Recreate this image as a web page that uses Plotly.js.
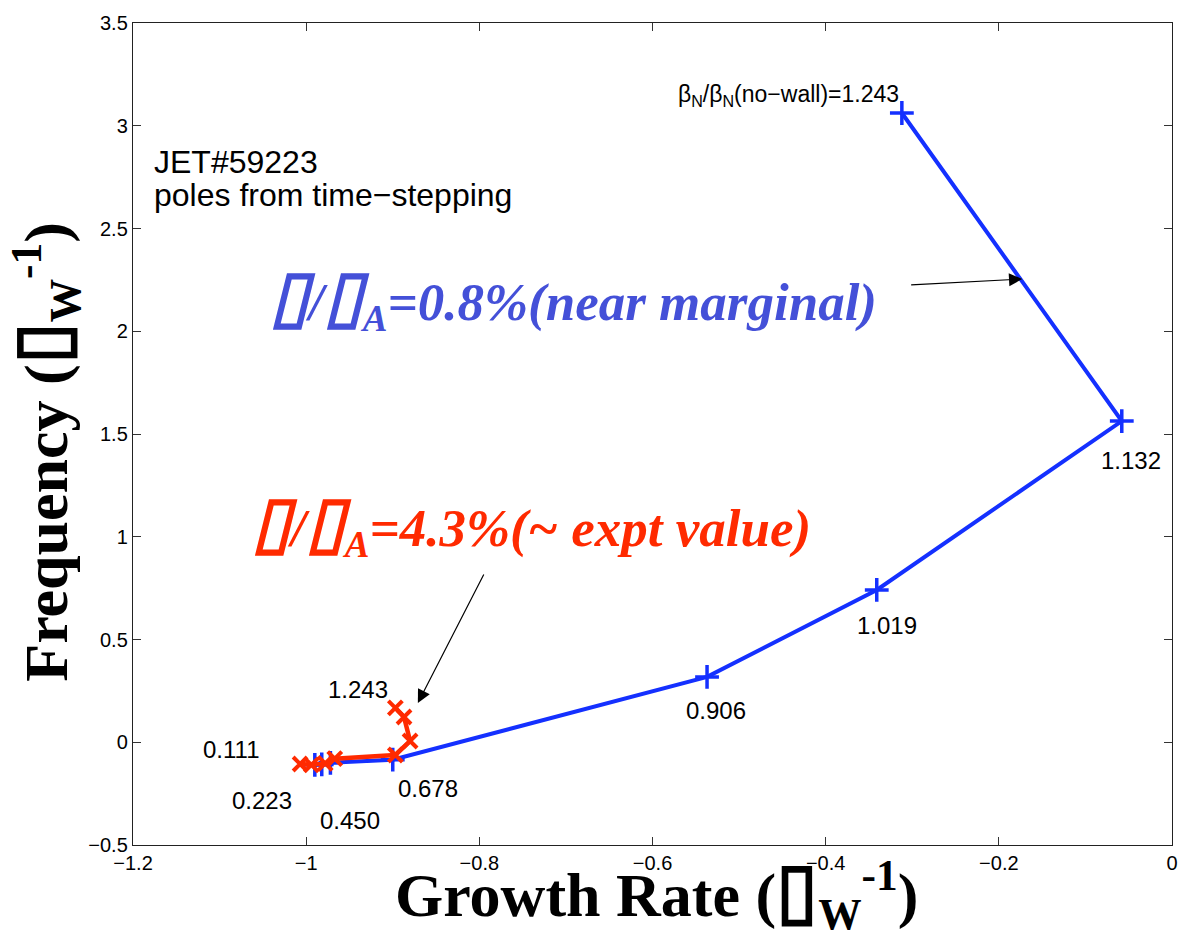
<!DOCTYPE html>
<html>
<head>
<meta charset="utf-8">
<script src="https://cdn.plot.ly/plotly-3.0.1.min.js"></script>
<style>
  html, body { margin: 0; padding: 0; background: #fff; }
  #chart { width: 1181px; height: 935px; }
</style>
</head>
<body>
<div id="chart"></div>
<script>
// Wall-mode poles for JET#59223, traced as beta_N / beta_N(no-wall) is raised.
const betaRatio = [0.111, 0.223, 0.450, 0.678, 0.906, 1.019, 1.132, 1.243];

// Low rotation (near marginal) case
const growthLowRot = [-0.990, -0.982, -0.972, -0.900, -0.537, -0.341, -0.058, -0.312];
const freqLowRot   = [-0.110, -0.108, -0.100, -0.085,  0.318,  0.741,  1.563,  3.062];

// Rotation close to the experimental value
const growthExpt = [-1.007, -0.994, -0.978, -0.967, -0.897, -0.880, -0.887, -0.897];
const freqExpt   = [-0.106, -0.110, -0.103, -0.080, -0.062,  0.006,  0.123,  0.167];

const xTicks = [-1.2, -1.0, -0.8, -0.6, -0.4, -0.2, 0];
const yTicks = [-0.5, 0, 0.5, 1, 1.5, 2, 2.5, 3, 3.5];

const BLUE = '#1430ff';
const RED = '#ff2a00';

// Missing-glyph box drawn a little larger than the surrounding text
function box(px) {
  return '<span style="font-size:' + px + 'px">\u25AF</span>';
}

const traces = [
  {
    x: growthLowRot, y: freqLowRot, type: 'scatter', mode: 'lines+markers',
    line: {color: BLUE, width: 4},
    marker: {symbol: 'cross-thin-open', size: 17, line: {color: BLUE, width: 3.5}},
    hoverinfo: 'skip'
  },
  {
    x: growthExpt, y: freqExpt, type: 'scatter', mode: 'lines+markers',
    line: {color: RED, width: 4.5},
    marker: {symbol: 'x-thin-open', size: 14, line: {color: RED, width: 4}},
    hoverinfo: 'skip'
  }
];

const numFont = {family: 'Liberation Sans, Arial, sans-serif', size: 24, color: '#000'};

// Offsets (px) of each beta label from its pole on the low-rotation branch
const labelShift = [[-83, 15], [-60, -36], [20, -58], [35, -29], [9, -34], [10, -36], [9, -39]];

const annotations = [];
labelShift.forEach(function (s, i) {
  annotations.push({
    x: growthLowRot[i], y: freqLowRot[i], xref: 'x', yref: 'y',
    text: betaRatio[i].toFixed(3), showarrow: false,
    xshift: s[0], yshift: s[1], font: numFont
  });
});
const last = betaRatio.length - 1;
annotations.push({
  x: growthLowRot[last], y: freqLowRot[last], xref: 'x', yref: 'y',
  text: '\u03B2<sub>N</sub>/\u03B2<sub>N</sub>(no\u2212wall)=' + betaRatio[last].toFixed(3),
  showarrow: false, xshift: -113, yshift: 18,
  font: {family: 'Liberation Sans, Arial, sans-serif', size: 23, color: '#000'}
});
annotations.push({
  x: growthExpt[last], y: freqExpt[last], xref: 'x', yref: 'y',
  text: betaRatio[last].toFixed(3), showarrow: false,
  xshift: -37, yshift: 18, font: numFont
});

// Case description
const noteFont = {family: 'Liberation Sans, Arial, sans-serif', size: 32, color: '#000'};
annotations.push({
  x: 0.018, y: 0.831, xref: 'paper', yref: 'paper', xanchor: 'left', yanchor: 'middle',
  text: 'JET#59223', showarrow: false, font: noteFont
});
annotations.push({
  x: 0.018, y: 0.791, xref: 'paper', yref: 'paper', xanchor: 'left', yanchor: 'middle',
  text: 'poles from time\u2212stepping', showarrow: false, font: noteFont
});

// Rotation labels
annotations.push({
  x: 0.13, y: 0.665, xref: 'paper', yref: 'paper', xanchor: 'left', yanchor: 'middle',
  text: '<b><i>' + box(71) + '/' + box(71) + '<sub>A</sub>=0.8%(near marginal)</i></b>', showarrow: false,
  font: {family: 'Liberation Serif, Times New Roman, serif', size: 53, color: '#4450d8'}
});
annotations.push({
  x: 0.113, y: 0.39, xref: 'paper', yref: 'paper', xanchor: 'left', yanchor: 'middle',
  text: '<b><i>' + box(71) + '/' + box(71) + '<sub>A</sub>=4.3%(~ expt value)</i></b>', showarrow: false,
  font: {family: 'Liberation Serif, Times New Roman, serif', size: 53, color: RED}
});

// Pointer arrows to each branch
annotations.push({
  x: -0.173, y: 2.254, ax: -0.303, ay: 2.225, xref: 'x', yref: 'y', axref: 'x', ayref: 'y',
  text: '', showarrow: true, arrowhead: 2, arrowsize: 2.2, arrowwidth: 1.2, arrowcolor: '#000'
});
annotations.push({
  x: -0.871, y: 0.191, ax: -0.794, ay: 0.824, xref: 'x', yref: 'y', axref: 'x', ayref: 'y',
  text: '', showarrow: true, arrowhead: 2, arrowsize: 2.2, arrowwidth: 1.2, arrowcolor: '#000'
});

// Axis titles
annotations.push({
  x: 0.504, y: -0.059, xref: 'paper', yref: 'paper', xanchor: 'center', yanchor: 'middle',
  text: '<b>Growth Rate (' + box(76) + '<sub>W</sub><sup>-1</sup>)</b>', showarrow: false,
  font: {family: 'Liberation Serif, Times New Roman, serif', size: 62, color: '#000'}
});
annotations.push({
  x: -0.086, y: 0.478, xref: 'paper', yref: 'paper', xanchor: 'center', yanchor: 'middle',
  text: '<b>Frequency (' + box(76) + '<sub>W</sub><sup>-1</sup>)</b>', showarrow: false, textangle: -90,
  font: {family: 'Liberation Serif, Times New Roman, serif', size: 62, color: '#000'}
});

const axisCommon = {
  showgrid: false, zeroline: false, showline: true, linecolor: '#222', linewidth: 1.2,
  mirror: 'ticks', ticks: 'inside', ticklen: 8, tickwidth: 1, tickcolor: '#333',
  tickfont: {family: 'Liberation Sans, Arial, sans-serif', size: 20, color: '#000'}
};

const layout = {
  width: 1181, height: 935,
  margin: {l: 133, r: 9, t: 23, b: 90},
  paper_bgcolor: '#fff', plot_bgcolor: '#fff',
  showlegend: false,
  xaxis: Object.assign({}, axisCommon, {range: [-1.2, 0], tickvals: xTicks}),
  yaxis: Object.assign({}, axisCommon, {range: [-0.5, 3.5], tickvals: yTicks}),
  annotations: annotations
};

Plotly.newPlot('chart', traces, layout, {staticPlot: true, displayModeBar: false});
</script>
</body>
</html>
